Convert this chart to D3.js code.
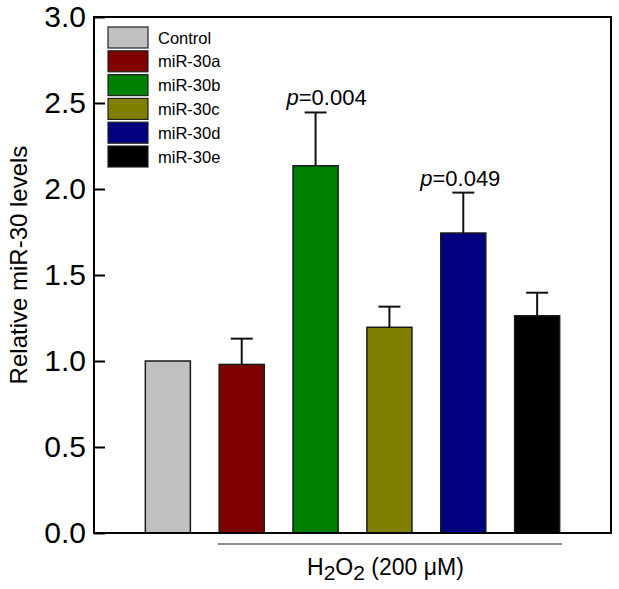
<!DOCTYPE html>
<html>
<head>
<meta charset="utf-8">
<script src="https://cdn.jsdelivr.net/npm/d3@7"></script>
<style>
  html, body { margin: 0; padding: 0; background: #fff; }
  svg { display: block; font-family: "Liberation Sans", Arial, Helvetica, sans-serif; }
</style>
</head>
<body>
<svg id="chart" width="619" height="589"></svg>
<script>
const categories = ["Control", "miR-30a", "miR-30b", "miR-30c", "miR-30d", "miR-30e"];
const values = [1.0, 0.98, 2.135, 1.196, 1.744, 1.263];
const errors = [0, 0.15, 0.31, 0.12, 0.235, 0.134];
const colors = ["#c0c0c0", "#800000", "#008000", "#808000", "#000080", "#000000"];
const pLabels = [null, null, "0.004", null, "0.049", null];
const yTicks = [0, 0.5, 1.0, 1.5, 2.0, 2.5, 3.0];
const yTitle = "Relative miR-30 levels";

const svg = d3.select("#chart");
const L = 94, R = 611, T = 17, B = 533;

const x = d3.scaleLinear().domain([0, 7]).range([L, R]);
const y = d3.scaleLinear().domain([0, 3]).range([B, T]);
const bw = x(0.61) - x(0);

const data = categories.map((c, i) => ({c, i, v: values[i], e: errors[i], col: colors[i], p: pLabels[i]}));

// bars
svg.selectAll("rect.bar").data(data).enter().append("rect")
  .attr("class", "bar")
  .attr("x", d => x(d.i + 1) - bw / 2)
  .attr("y", d => y(d.v))
  .attr("width", bw)
  .attr("height", d => y(0) - y(d.v))
  .attr("fill", d => d.col)
  .attr("stroke", "#1a1a1a")
  .attr("stroke-width", 1.5);

// error bars
const eb = data.filter(d => d.e > 0);
svg.selectAll("line.err").data(eb).enter().append("line")
  .attr("x1", d => x(d.i + 1)).attr("x2", d => x(d.i + 1))
  .attr("y1", d => y(d.v)).attr("y2", d => y(d.v + d.e))
  .attr("stroke", "#111").attr("stroke-width", 2);
svg.selectAll("line.cap").data(eb).enter().append("line")
  .attr("x1", d => x(d.i + 1) - 11).attr("x2", d => x(d.i + 1) + 11)
  .attr("y1", d => y(d.v + d.e)).attr("y2", d => y(d.v + d.e))
  .attr("stroke", "#111").attr("stroke-width", 2);

// p labels
const pShift = {2: 11, 4: -3};
data.filter(d => d.p).forEach(d => {
  const t = svg.append("text")
    .attr("x", x(d.i + 1) + pShift[d.i])
    .attr("y", y(d.v + d.e) - 7)
    .attr("text-anchor", "middle")
    .attr("font-size", 22)
    .attr("fill", "#000");
  t.append("tspan").attr("font-style", "italic").text("p");
  t.append("tspan").text("=" + d.p);
});

// frame
svg.append("rect").attr("x", L).attr("y", T).attr("width", R - L).attr("height", B - T)
  .attr("fill", "none").attr("stroke", "#000").attr("stroke-width", 2);

// y axis (ticks inward)
const yAxis = d3.axisLeft(y).tickValues(yTicks).tickFormat(d3.format(".1f")).tickSizeInner(-11).tickSizeOuter(0).tickPadding(8);
const ga = svg.append("g").attr("transform", `translate(${L},0)`).call(yAxis);
ga.select(".domain").remove();
ga.selectAll(".tick line").attr("stroke", "#000").attr("stroke-width", 2);
ga.selectAll(".tick text").attr("x", -8).attr("font-size", 30).attr("fill", "#000")
  .attr("font-family", "'Liberation Sans', Arial, sans-serif");

// y title
svg.append("text")
  .attr("transform", `translate(27,265) rotate(-90)`)
  .attr("text-anchor", "middle")
  .attr("font-size", 24)
  .text(yTitle);

// legend
const lg = svg.append("g");
data.forEach((d, k) => {
  const yy = 27 + k * 23.8;
  lg.append("rect").attr("x", 108).attr("y", yy).attr("width", 40).attr("height", 21)
    .attr("fill", d.col).attr("stroke", "#222").attr("stroke-width", 1.2);
  lg.append("text").attr("x", 158).attr("y", yy + 16.5).attr("font-size", 16.5).text(d.c);
});

// treatment group line + label
svg.append("line").attr("x1", x(2) - bw / 2 - 1.5).attr("x2", x(6) + bw / 2 + 2.5)
  .attr("y1", 544).attr("y2", 544).attr("stroke", "#666").attr("stroke-width", 1.5);
const gt = svg.append("text").attr("x", x(4) - 4).attr("y", 575).attr("text-anchor", "middle").attr("font-size", 23);
gt.append("tspan").text("H");
gt.append("tspan").attr("dy", 5).attr("font-size", 21).text("2");
gt.append("tspan").attr("dy", -5).text("O");
gt.append("tspan").attr("dy", 5).attr("font-size", 21).text("2");
gt.append("tspan").attr("dy", -5).text(" (200 \u03bcM)");
</script>
</body>
</html>
